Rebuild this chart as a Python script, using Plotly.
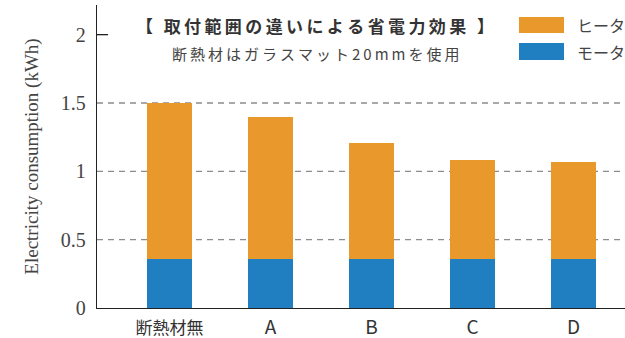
import plotly.graph_objects as go

# Categories and stacked consumption values (kWh)
categories = ["断熱材無", "A", "B", "C", "D"]
motor_kwh = [0.36, 0.36, 0.36, 0.36, 0.36]
heater_kwh = [1.14, 1.04, 0.85, 0.72, 0.71]
y_ticks = [0, 0.5, 1, 1.5, 2]
y_tick_text = ["0", "0.5", "1", "1.5", "2"]
grid_values = [0.5, 1, 1.5]

series_names = ["モーター電力", "ヒーター電力"]
title_text = "【 取付範囲の違いによる省電力効果 】"
subtitle_text = "断熱材はガラスマット20mmを使用"
colors = {"motor": "#1F7FC1", "heater": "#E9982C"}

x_idx = list(range(len(categories)))


def spaced(s, gap="\u2009"):
    """Open up the tracking of a heading by putting a narrow space between glyphs."""
    return gap.join(s)


def tick_label(s):
    # Latin letters are set a little larger than the Japanese label
    if s.isascii():
        return f"<span style='font-size:19px'>{s}</span>"
    return s


fig = go.Figure()
fig.add_trace(go.Bar(x=x_idx, y=motor_kwh, name=series_names[0],
                     marker=dict(color=colors["motor"], line=dict(width=0)),
                     width=0.446))
fig.add_trace(go.Bar(x=x_idx, y=heater_kwh, name=series_names[1],
                     marker=dict(color=colors["heater"], line=dict(width=0)),
                     width=0.446))

# Dashed reference lines across the plot
shapes = []
for g in grid_values:
    shapes.append(dict(type="line", xref="paper", yref="y", x0=0, x1=1, y0=g, y1=g,
                       line=dict(color="#8C8C8C", width=1.3, dash="6px,5px"),
                       layer="below"))
# Short inner tick at the top label
shapes.append(dict(type="line", xref="paper", yref="y", x0=0, x1=0.021, y0=2, y1=2,
                   line=dict(color="#222222", width=1.3)))

# Legend swatches
shapes.append(dict(type="rect", xref="paper", yref="paper",
                   x0=(519 - 97) / 528, x1=(564 - 97) / 528,
                   y0=(308 - 33) / 303, y1=(308 - 17) / 303,
                   fillcolor=colors["heater"], line=dict(width=0)))
shapes.append(dict(type="rect", xref="paper", yref="paper",
                   x0=(519 - 97) / 528, x1=(564 - 97) / 528,
                   y0=(308 - 60) / 303, y1=(308 - 43) / 303,
                   fillcolor=colors["motor"], line=dict(width=0)))

cjk = "Noto Sans CJK JP"
annotations = [
    dict(text=spaced(title_text), xref="paper", yref="paper",
         x=(315 - 97) / 528, y=(308 - 26) / 303, showarrow=False,
         font=dict(family=cjk, size=17, color="#333333", weight="bold"),
         xanchor="center", yanchor="middle"),
    dict(text=spaced(subtitle_text), xref="paper", yref="paper",
         x=(315 - 97) / 528, y=(308 - 54) / 303, showarrow=False,
         font=dict(family=cjk, size=15, color="#444444"),
         xanchor="center", yanchor="middle"),
    dict(text=series_names[1], xref="paper", yref="paper",
         x=(575 - 97) / 528, y=(308 - 25) / 303, showarrow=False,
         font=dict(family=cjk, size=16, color="#444444"),
         xanchor="left", yanchor="middle"),
    dict(text=series_names[0], xref="paper", yref="paper",
         x=(575 - 97) / 528, y=(308 - 52) / 303, showarrow=False,
         font=dict(family=cjk, size=16, color="#444444"),
         xanchor="left", yanchor="middle"),
]

fig.update_layout(
    width=625, height=338,
    margin=dict(l=97, r=0, t=5, b=30),
    barmode="stack",
    showlegend=False,
    plot_bgcolor="white", paper_bgcolor="white",
    shapes=shapes, annotations=annotations,
    bargap=0,
)

fig.update_xaxes(
    range=[-0.718, 4.51], tickvals=x_idx, ticktext=[tick_label(c) for c in categories],
    showgrid=False, zeroline=False, showline=True, linecolor="#222222", linewidth=1.3,
    ticks="", ticklabelstandoff=4,
    tickfont=dict(family=cjk, size=17, color="#333333"),
)
fig.update_yaxes(
    range=[0, 2.217], tickvals=y_ticks, ticktext=y_tick_text,
    showgrid=False, zeroline=False, showline=True, linecolor="#222222", linewidth=1.3,
    ticks="", ticklabelstandoff=6,
    tickfont=dict(family="Liberation Serif", size=20, color="#444444"),
    title=dict(text="Electricity consumption (kWh)", standoff=17,
               font=dict(family="Liberation Serif", size=19, color="#444444")),
)

fig.write_html("out.html")
